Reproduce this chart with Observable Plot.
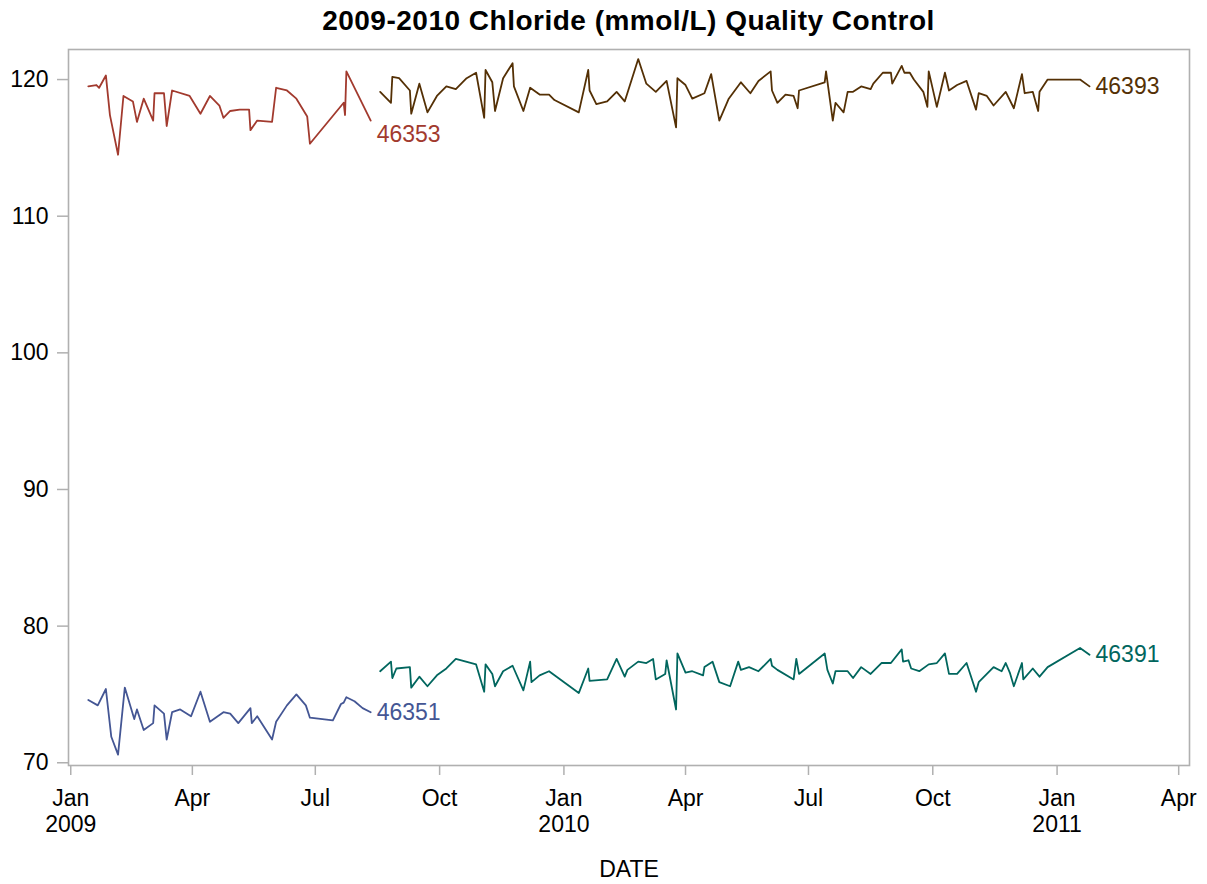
<!DOCTYPE html>
<html><head><meta charset="utf-8">
<script src="https://cdn.jsdelivr.net/npm/d3@7"></script>
<script src="https://cdn.jsdelivr.net/npm/@observablehq/plot@0.6"></script>
<style>
body{margin:0;background:#fff;font-family:"Liberation Sans",Arial,sans-serif;}
#title{height:40px;width:1207px;box-sizing:border-box;padding-left:68px;padding-right:18px;text-align:center;font-weight:bold;font-size:28px;line-height:42px;color:#000;letter-spacing:0.5px;}
</style></head><body>
<div id="title">2009-2010 Chloride (mmol/L) Quality Control</div>
<div id="chart"></div>
<script>
const seriesNames = ["46351", "46353", "46391", "46393"];
const seriesColors = ["#445694", "#A23A2E", "#01665E", "#543005"];

const dates46353 = ["2009-01-14","2009-01-20","2009-01-22","2009-01-27","2009-01-30","2009-02-05","2009-02-09","2009-02-16","2009-02-19","2009-02-24","2009-03-03","2009-03-04","2009-03-11","2009-03-13","2009-03-17","2009-03-30","2009-04-07","2009-04-14","2009-04-21","2009-04-24","2009-04-29","2009-05-06","2009-05-13","2009-05-14","2009-05-19","2009-05-30","2009-06-02","2009-06-10","2009-06-17","2009-06-25","2009-06-27","2009-07-22","2009-07-23","2009-07-24","2009-08-11"];
const values46353 = [119.5,119.6,119.4,120.3,117.4,114.5,118.8,118.4,116.9,118.6,117.0,119.0,119.0,116.6,119.2,118.8,117.5,118.8,118.1,117.2,117.7,117.8,117.8,116.3,117.0,116.9,119.4,119.2,118.6,117.3,115.3,118.3,117.4,120.6,117.0];

const dates46351 = ["2009-01-14","2009-01-21","2009-01-27","2009-01-31","2009-02-05","2009-02-10","2009-02-17","2009-02-19","2009-02-24","2009-03-03","2009-03-04","2009-03-11","2009-03-13","2009-03-17","2009-03-23","2009-03-31","2009-04-07","2009-04-14","2009-04-24","2009-04-29","2009-05-05","2009-05-14","2009-05-15","2009-05-19","2009-05-30","2009-06-02","2009-06-10","2009-06-17","2009-06-24","2009-06-27","2009-07-14","2009-07-20","2009-07-22","2009-07-24","2009-07-30","2009-08-05","2009-08-11"];
const values46351 = [74.6,74.2,75.4,71.9,70.6,75.5,73.2,73.9,72.4,72.9,74.2,73.6,71.7,73.7,73.9,73.4,75.2,73.0,73.7,73.6,72.9,74.0,72.9,73.4,71.7,73.0,74.2,75.0,74.2,73.3,73.1,74.3,74.4,74.8,74.5,74.0,73.7];

const dates46393 = ["2009-08-18","2009-08-26","2009-08-27","2009-09-01","2009-09-09","2009-09-10","2009-09-16","2009-09-22","2009-09-29","2009-10-06","2009-10-13","2009-10-21","2009-10-28","2009-11-03","2009-11-04","2009-11-09","2009-11-11","2009-11-17","2009-11-24","2009-11-25","2009-12-02","2009-12-07","2009-12-14","2009-12-21","2009-12-25","2010-01-12","2010-01-19","2010-01-20","2010-01-25","2010-02-02","2010-02-09","2010-02-15","2010-02-25","2010-03-03","2010-03-10","2010-03-18","2010-03-25","2010-03-26","2010-04-01","2010-04-06","2010-04-15","2010-04-20","2010-04-26","2010-05-03","2010-05-12","2010-05-19","2010-05-25","2010-06-03","2010-06-04","2010-06-08","2010-06-14","2010-06-20","2010-06-23","2010-06-24","2010-07-13","2010-07-14","2010-07-19","2010-07-21","2010-07-27","2010-07-30","2010-08-03","2010-08-09","2010-08-16","2010-08-18","2010-08-25","2010-08-31","2010-09-01","2010-09-08","2010-09-10","2010-09-14","2010-09-17","2010-09-24","2010-09-27","2010-09-28","2010-10-04","2010-10-10","2010-10-13","2010-10-19","2010-10-26","2010-11-02","2010-11-04","2010-11-10","2010-11-15","2010-11-24","2010-11-30","2010-12-06","2010-12-08","2010-12-14","2010-12-18","2010-12-19","2010-12-25","2011-01-18","2011-01-25"];
const values46393 = [119.1,118.3,120.2,120.1,119.2,117.5,119.7,117.6,118.8,119.5,119.3,120.1,120.5,117.2,120.7,119.8,117.7,120.1,121.2,119.5,117.7,119.4,118.9,118.9,118.5,117.6,120.7,119.2,118.2,118.4,119.1,118.4,121.5,119.7,119.1,119.9,116.5,120.1,119.6,118.6,119.0,120.4,117.0,118.6,119.8,119.0,119.9,120.6,119.2,118.3,118.9,118.8,117.9,119.2,119.8,120.6,117.0,118.3,117.6,119.1,119.1,119.5,119.3,119.7,120.5,120.5,119.7,121.0,120.5,120.5,120.0,119.1,118.0,120.6,118.0,120.5,119.2,119.6,119.9,117.8,119.0,118.8,118.1,119.1,117.9,120.4,119.0,119.1,117.7,119.1,120.0,120.0,119.5];

const dates46391 = ["2009-08-18","2009-08-26","2009-08-27","2009-08-30","2009-09-09","2009-09-10","2009-09-16","2009-09-22","2009-09-29","2009-10-06","2009-10-13","2009-10-28","2009-11-03","2009-11-04","2009-11-09","2009-11-11","2009-11-17","2009-11-24","2009-12-02","2009-12-07","2009-12-08","2009-12-14","2009-12-21","2010-01-12","2010-01-19","2010-01-20","2010-02-02","2010-02-09","2010-02-15","2010-02-17","2010-02-25","2010-03-03","2010-03-08","2010-03-10","2010-03-17","2010-03-18","2010-03-25","2010-03-26","2010-04-01","2010-04-06","2010-04-14","2010-04-15","2010-04-21","2010-04-26","2010-05-04","2010-05-10","2010-05-12","2010-05-18","2010-05-25","2010-06-03","2010-06-04","2010-06-08","2010-06-20","2010-06-22","2010-06-24","2010-07-13","2010-07-15","2010-07-19","2010-07-21","2010-07-30","2010-08-03","2010-08-09","2010-08-16","2010-08-24","2010-08-31","2010-09-08","2010-09-09","2010-09-13","2010-09-15","2010-09-21","2010-09-28","2010-10-04","2010-10-10","2010-10-13","2010-10-19","2010-10-26","2010-11-02","2010-11-04","2010-11-15","2010-11-21","2010-11-24","2010-11-27","2010-11-30","2010-12-06","2010-12-07","2010-12-14","2010-12-19","2010-12-25","2011-01-18","2011-01-25"];
const values46391 = [76.7,77.4,76.2,76.9,77.0,75.5,76.3,75.6,76.4,76.9,77.6,77.2,75.2,77.2,76.5,75.6,76.7,77.1,75.3,77.4,75.9,76.4,76.7,75.1,76.9,76.0,76.1,77.6,76.3,76.8,77.4,77.3,77.6,76.1,76.5,77.5,73.9,78.0,76.6,76.7,76.4,77.0,77.4,75.9,75.6,77.4,76.8,77.0,76.7,77.6,77.1,76.8,76.1,77.6,76.5,78.0,76.8,75.8,76.7,76.7,76.2,77.0,76.5,77.3,77.3,78.3,77.4,77.5,76.9,76.7,77.2,77.3,78.0,76.5,76.5,77.3,75.2,75.9,77.0,76.7,77.3,76.6,75.6,77.3,76.1,76.9,76.3,77.0,78.4,77.9];

const yTicks = [70, 80, 90, 100, 110, 120];
const xTickDates = ["2009-01-01","2009-04-01","2009-07-01","2009-10-01","2010-01-01","2010-04-01","2010-07-01","2010-10-01","2011-01-01","2011-04-01"];
const monthNames = ["Jan","Feb","Mar","Apr","May","Jun","Jul","Aug","Sep","Oct","Nov","Dec"];
const xDomain = ["2008-12-30T08:00Z", "2011-04-09T00:00Z"];
const yDomain = [69.8, 122.2];
const xLabel = "DATE";

const parse = d3.utcParse("%Y-%m-%d");
const rows = [];
function add(name, dates, values) {
  dates.forEach((d, i) => rows.push({series: name, date: parse(d), value: values[i]}));
}
add("46351", dates46351, values46351);
add("46353", dates46353, values46353);
add("46391", dates46391, values46391);
add("46393", dates46393, values46393);

const fmt = d => {
  const m = monthNames[d.getUTCMonth()];
  return d.getUTCMonth() === 0 ? m + "\n" + d.getUTCFullYear() : m;
};

const font = "'Liberation Sans', Arial, sans-serif";
const chart = Plot.plot({
  width: 1207,
  height: 844,
  marginTop: 9,
  marginBottom: 119,
  marginLeft: 68,
  marginRight: 18,
  style: {fontFamily: font, fontSize: "23px", color: "#000", background: "#fff"},
  x: {type: "utc", domain: xDomain.map(s => new Date(s))},
  y: {domain: yDomain},
  color: {domain: seriesNames, range: seriesColors},
  marks: [
    Plot.frame({stroke: "#b0b0b0", strokeWidth: 1.6}),
    Plot.axisY({ticks: yTicks, tickSize: 11, tickPadding: 9, stroke: "#b0b0b0", strokeWidth: 1.5, fontSize: 23, label: null}),
    Plot.axisX({ticks: xTickDates.map(parse), tickFormat: fmt, tickSize: 10, tickPadding: 12, lineHeight: 1.14, stroke: "#b0b0b0", strokeWidth: 1.5, fontSize: 23, label: null}),
    Plot.text([xLabel], {frameAnchor: "bottom", dy: 111, text: d => d, fontSize: 23, fill: "#000"}),
    Plot.line(rows, {x: "date", y: "value", z: "series", stroke: "series", strokeWidth: 1.8}),
    Plot.text(rows.filter(d => d.series !== "46353"), Plot.selectLast({x: "date", y: "value", z: "series", text: "series", fill: "series", textAnchor: "start", dx: 6, fontSize: 23})),
    Plot.text(rows.filter(d => d.series === "46353"), Plot.selectLast({x: "date", y: "value", z: "series", text: "series", fill: "series", textAnchor: "start", dx: 6, dy: 14, fontSize: 23}))
  ]
});
document.getElementById("chart").appendChild(chart);
</script>
</body></html>
